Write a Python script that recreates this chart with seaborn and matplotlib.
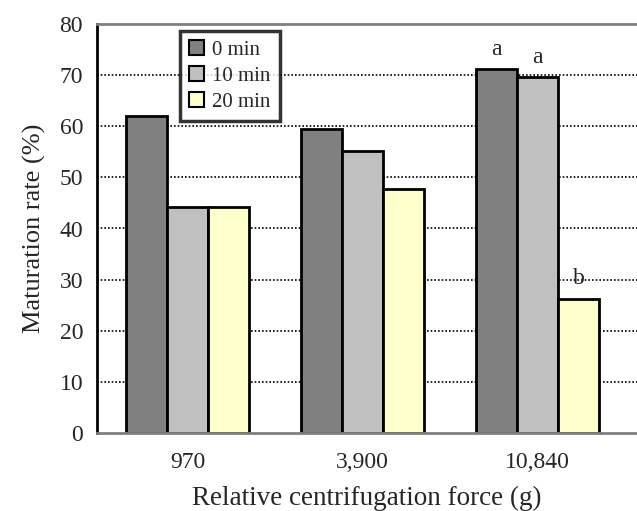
import matplotlib
matplotlib.use("Agg")
import matplotlib.pyplot as plt
import seaborn as sns
import pandas as pd
from matplotlib.patches import Patch

forces = ["970", "3,900", "10,840"]
times = ["0 min", "10 min", "20 min"]
rate_0 = [62.0, 59.5, 71.2]
rate_10 = [44.2, 55.2, 69.6]
rate_20 = [44.2, 47.8, 26.3]
letters = {("10,840", "0 min"): "a", ("10,840", "10 min"): "a", ("10,840", "20 min"): "b"}

rows = []
for t, vals in zip(times, [rate_0, rate_10, rate_20]):
    for f, v in zip(forces, vals):
        rows.append({"force": f, "time": t, "rate": v})
df = pd.DataFrame(rows)

sns.set_style("white")
plt.rcParams["font.family"] = ["Liberation Serif", "DejaVu Serif"]
colors = ["#808080", "#C0C0C0", "#FFFFCC"]

fig = plt.figure(figsize=(6.37, 5.11), dpi=100)
ax = fig.add_axes([97/637, 1-433/511, 1-97/637, (433-24)/511])
sns.barplot(data=df, x="force", y="rate", hue="time", order=forces, hue_order=times,
            palette=colors, saturation=1, width=0.705, edgecolor="black", linewidth=2, ax=ax,
            legend=False)

ax.set_ylim(0, 80)
ax.set_xlim(-0.52, 2.57)
ax.set_yticks(range(0, 81, 10))
ax.tick_params(axis="y", direction="in", length=4, width=1.5, labelsize=17, pad=10, color="black")
ax.tick_params(axis="x", length=0, labelsize=17, pad=14)
for y in range(10, 80, 10):
    ax.axhline(y, color="black", linestyle=(0, (1, 1.2)), linewidth=1.2, zorder=0)
ax.set_axisbelow(True)
for s in ["top", "bottom"]:
    ax.spines[s].set_color("#808080")
    ax.spines[s].set_linewidth(2)
ax.spines["left"].set_color("black")
ax.spines["left"].set_linewidth(2)
ax.spines["right"].set_visible(False)
ax.set_ylabel("Maturation rate (%)", fontsize=19, labelpad=10)
ax.set_xlabel("Relative centrifugation force (g)", fontsize=19.5, labelpad=9)

# letters
for patch_group, t in zip(ax.containers, times):
    for bar, f in zip(patch_group, forces):
        if (f, t) in letters:
            ax.text(bar.get_x() + bar.get_width()/2, bar.get_height() + 1.8, letters[(f, t)],
                    ha="center", va="bottom", fontsize=17)

handles = [Patch(facecolor=c, edgecolor="black", linewidth=1.5, label=t) for c, t in zip(colors, times)]
leg = ax.legend(handles=handles, loc="upper left", bbox_to_anchor=((180-97)/540, 1-(31-24)/409),
                fontsize=15, frameon=True, fancybox=False, handlelength=0.7, handleheight=0.7,
                handletextpad=0.4, borderpad=0.45, labelspacing=0.3, borderaxespad=0)
leg.get_frame().set_edgecolor("black")
leg.get_frame().set_linewidth(2.5)

fig.savefig("out.png", dpi=100)
